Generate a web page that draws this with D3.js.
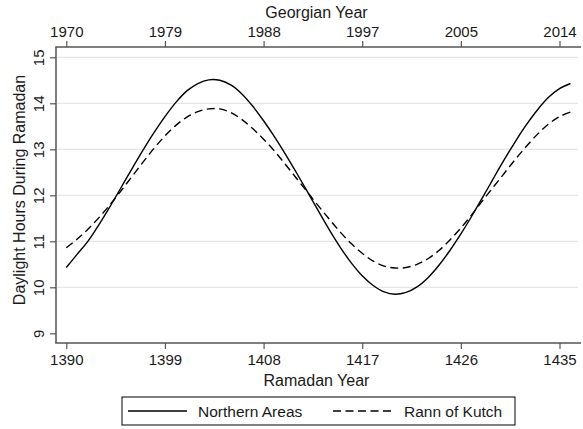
<!DOCTYPE html>
<html>
<head>
<meta charset="utf-8">
<script src="https://cdnjs.cloudflare.com/ajax/libs/d3/7.8.5/d3.min.js"></script>
<style>
  body { margin: 0; background: #fff; }
  svg { display: block; font-family: "Liberation Sans", Arial, sans-serif; }
</style>
</head>
<body>
<svg id="chart" width="583" height="429"></svg>
<script>
// Ramadan years (AH) on the x axis
var ramadanYears = d3.range(1390, 1437);

// daylight hours, one per Ramadan year
var northernAreas = [
  10.43, 10.72, 11.01, 11.37, 11.76, 12.17, 12.58, 12.98, 13.36, 13.71,
  14.02, 14.27, 14.43, 14.51, 14.50, 14.40, 14.21, 13.94, 13.62, 13.27,
  12.89, 12.49, 12.08, 11.66, 11.25, 10.87, 10.53, 10.25, 10.04, 9.90,
  9.85, 9.89, 10.01, 10.21, 10.48, 10.80, 11.16, 11.55, 11.96, 12.38,
  12.79, 13.18, 13.54, 13.86, 14.13, 14.32, 14.43
];
var rannOfKutch = [
  10.86, 11.05, 11.27, 11.52, 11.80, 12.10, 12.41, 12.72, 13.02, 13.29,
  13.52, 13.70, 13.82, 13.88, 13.88, 13.80, 13.65, 13.45, 13.22, 12.96,
  12.67, 12.37, 12.07, 11.77, 11.48, 11.20, 10.95, 10.74, 10.57, 10.46,
  10.42, 10.43, 10.50, 10.62, 10.80, 11.03, 11.29, 11.58, 11.89, 12.19,
  12.49, 12.79, 13.07, 13.33, 13.55, 13.71, 13.81
];

var ramadanTicks = [1390, 1399, 1408, 1417, 1426, 1435];
var georgianTicks = ["1970", "1979", "1988", "1997", "2005", "2014"];
var yTicks = [9, 10, 11, 12, 13, 14, 15];
var gridTicks = [10, 11, 12, 13, 14, 15];

var seriesNames = ["Northern Areas", "Rann of Kutch"];

var svg = d3.select("#chart");
var W = 583, H = 429;

// plot box
var boxLeft = 56, boxRight = 581, boxTop = 47, boxBottom = 343;

var x = d3.scaleLinear().domain([1390, 1435]).range([66.3, 559.5]);
var y = d3.scaleLinear().domain([9, 15]).range([333.3, 57.3]);

var axisCol = "#555";
var textCol = "#1a1a1a";

svg.append("rect").attr("width", W).attr("height", H).attr("fill", "#fff");

// grid lines
svg.append("g").selectAll("line")
  .data(gridTicks)
  .enter().append("line")
  .attr("x1", boxLeft + 1).attr("x2", boxRight - 3)
  .attr("y1", d => y(d)).attr("y2", d => y(d))
  .attr("stroke", "#e6e6e6").attr("stroke-width", 1.3);

// axes
var xBottom = d3.axisBottom(x).tickValues(ramadanTicks).tickSize(6).tickPadding(5)
  .tickFormat(d3.format("d"));
var gBottom = svg.append("g").attr("transform", "translate(0," + boxBottom + ")").call(xBottom);

var xTop = d3.axisTop(x).tickValues(ramadanTicks).tickSize(6).tickPadding(4)
  .tickFormat((d, i) => georgianTicks[i]);
var gTop = svg.append("g").attr("transform", "translate(0," + boxTop + ")").call(xTop);

var yLeft = d3.axisLeft(y).tickValues(yTicks).tickSize(6).tickPadding(0)
  .tickFormat(d3.format("d"));
var gLeft = svg.append("g").attr("transform", "translate(" + boxLeft + ",0)").call(yLeft);

[gBottom, gTop, gLeft].forEach(function (g) {
  g.select(".domain").remove();
  g.selectAll(".tick line").attr("stroke", axisCol).attr("stroke-width", 1.2);
  g.selectAll(".tick text").attr("fill", textCol).style("font-size", "15px")
    .style("font-family", "'Liberation Sans', Arial, sans-serif");
});

// rotated y tick labels
gLeft.selectAll(".tick text")
  .attr("x", null).attr("dy", null)
  .attr("text-anchor", "middle")
  .attr("transform", "translate(-12.5,0) rotate(-90)");

// axis lines
svg.append("line").attr("x1", boxLeft).attr("x2", boxLeft).attr("y1", boxTop).attr("y2", boxBottom)
  .attr("stroke", axisCol).attr("stroke-width", 1.5);
svg.append("line").attr("x1", boxLeft - 0.75).attr("x2", boxRight).attr("y1", boxBottom).attr("y2", boxBottom)
  .attr("stroke", axisCol).attr("stroke-width", 1.5);
svg.append("line").attr("x1", boxLeft - 0.75).attr("x2", boxRight).attr("y1", boxTop).attr("y2", boxTop)
  .attr("stroke", axisCol).attr("stroke-width", 1.5);

// axis titles
svg.append("text").attr("x", (boxLeft + boxRight) / 2 - 2).attr("y", 18)
  .attr("text-anchor", "middle").attr("fill", textCol).style("font-size", "16px")
  .text("Georgian Year");
svg.append("text").attr("x", (boxLeft + boxRight) / 2 - 2).attr("y", 386)
  .attr("text-anchor", "middle").attr("fill", textCol).style("font-size", "16px")
  .text("Ramadan Year");
svg.append("text")
  .attr("transform", "translate(25," + ((boxTop + boxBottom) / 2 - 5) + ") rotate(-90)")
  .attr("text-anchor", "middle").attr("fill", textCol).style("font-size", "16px")
  .text("Daylight Hours During Ramadan");

// lines
var line = d3.line().curve(d3.curveCatmullRom.alpha(0.5));
var seriesData = [northernAreas, rannOfKutch];
var dashes = [null, "8,4.5"];

svg.append("g").selectAll("path")
  .data(seriesData)
  .enter().append("path")
  .attr("d", vals => line(vals.map((v, i) => [x(ramadanYears[i]), y(v)])))
  .attr("fill", "none")
  .attr("stroke", "#000")
  .attr("stroke-width", 1.4)
  .attr("stroke-dasharray", (d, i) => dashes[i]);

// legend
var lg = svg.append("g");
lg.append("rect").attr("x", 122).attr("y", 397).attr("width", 393).attr("height", 28)
  .attr("fill", "#fff").attr("stroke", "#000").attr("stroke-width", 1);
var legendX = [[128, 187, 198], [333, 395, 404]];
seriesNames.forEach(function (name, i) {
  lg.append("line").attr("x1", legendX[i][0]).attr("x2", legendX[i][1])
    .attr("y1", 411).attr("y2", 411)
    .attr("stroke", "#000").attr("stroke-width", 1.4)
    .attr("stroke-dasharray", dashes[i]);
  lg.append("text").attr("x", legendX[i][2]).attr("y", 416.5)
    .attr("fill", textCol).style("font-size", "15.5px").text(name);
});
</script>
</body>
</html>
